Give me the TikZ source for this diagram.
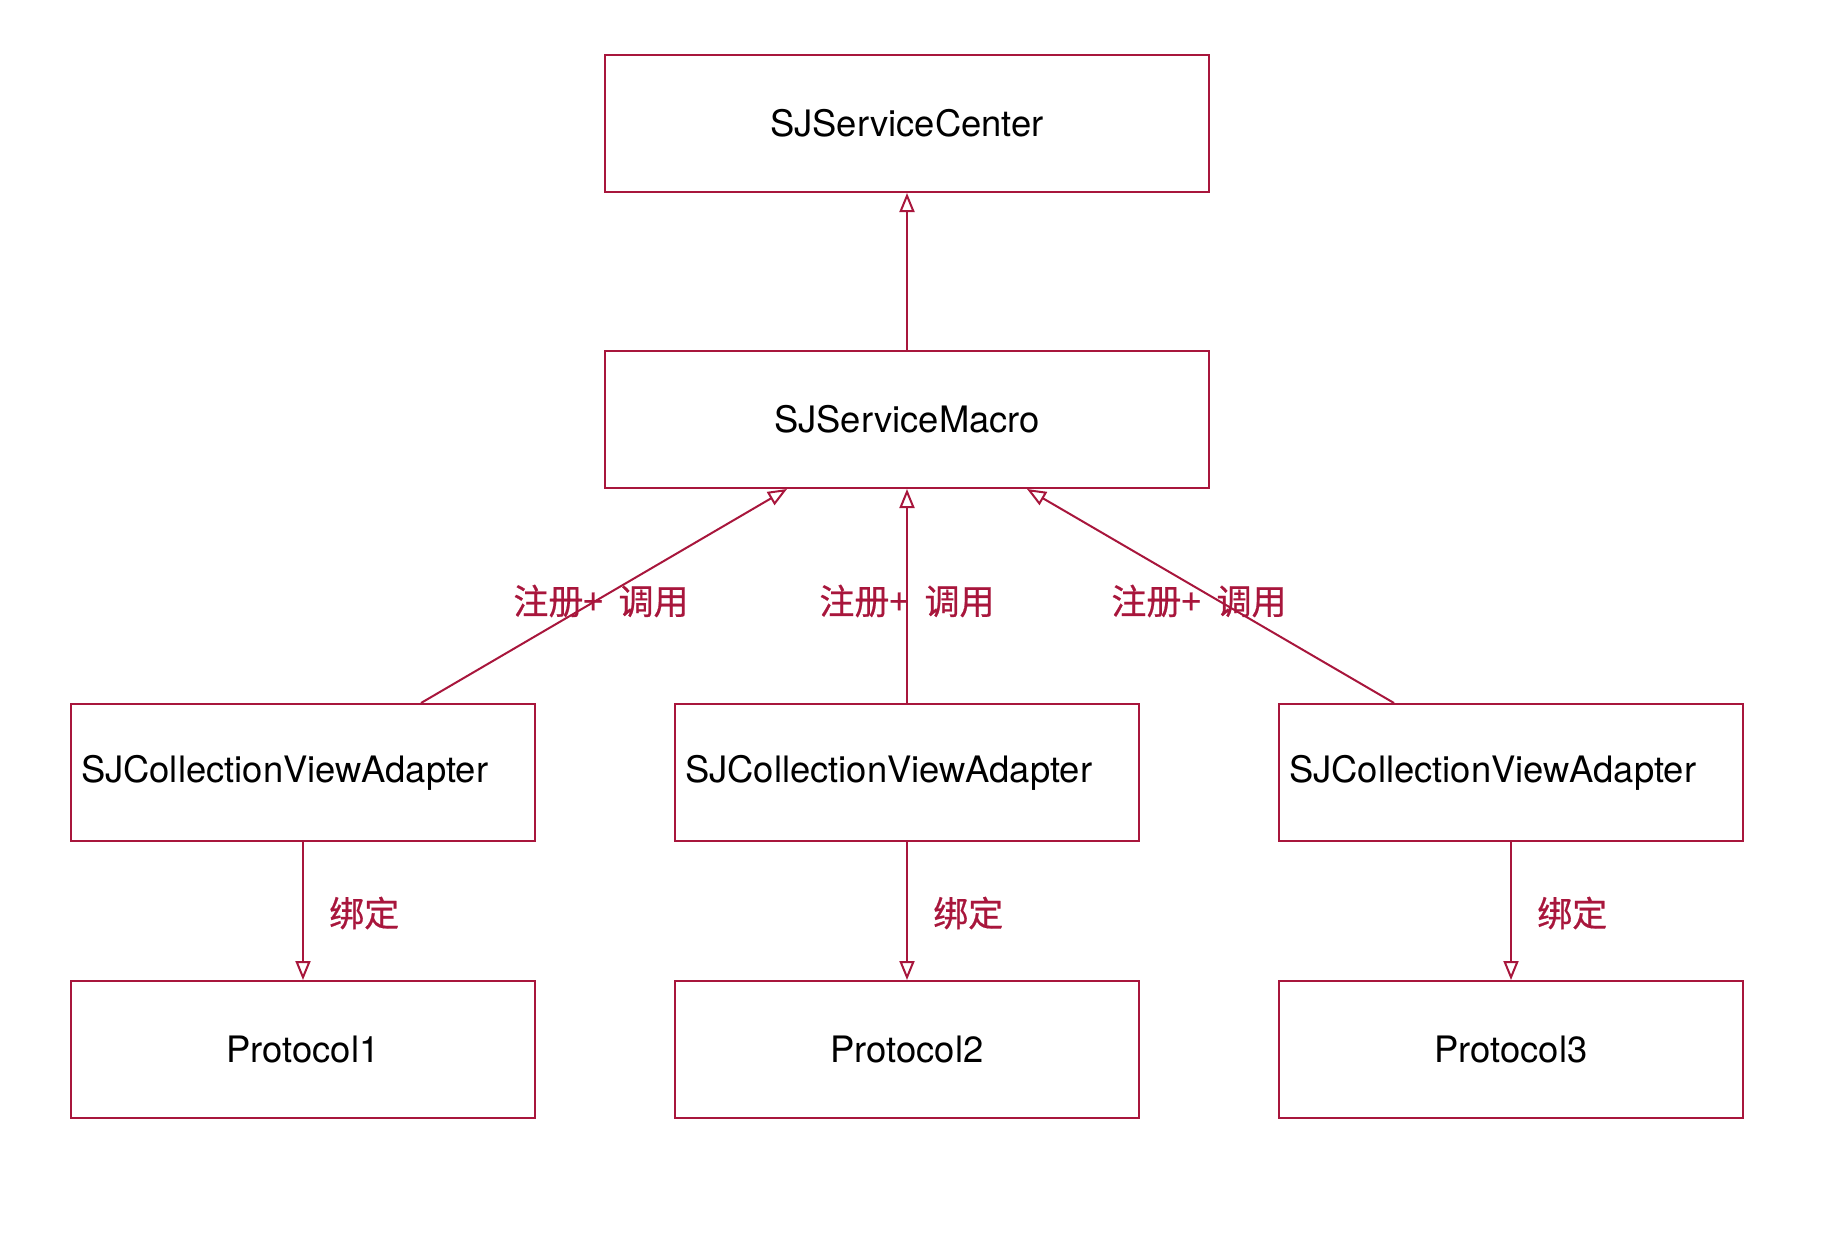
\documentclass[tikz,border=0pt]{standalone}
\usepackage{fontspec}
\setmainfont{TeX Gyre Heros}
\newfontfamily\cjk[UprightFeatures={FakeBold=0.6}]{Noto Sans CJK SC}
\usetikzlibrary{arrows.meta}
\definecolor{boxred}{RGB}{168,22,60}

\tikzset{
    classbox/.style={draw=boxred, line width=2pt, inner sep=0pt,
        minimum width=604pt, minimum height=137pt,
        font=\fontsize{36.4}{43}\selectfont},
    adapterbox/.style={classbox, minimum width=464pt, text width=444pt, align=left},
    protobox/.style={classbox, minimum width=464pt},
    uml/.style={boxred, line width=2pt, -{Triangle[open, length=19pt, width=15pt]}},
    lbl/.style={text=boxred, inner sep=0pt, font=\cjk\fontsize{35}{42}\selectfont}
}
\newcommand{\reglabel}{注册+\hspace{0.45em}调用}

\begin{document}
\begin{tikzpicture}[x=1pt, y=-1pt]
        \useasboundingbox (0,0) rectangle (1846,1236);

        % top two boxes
        \node[classbox] (center) at (907,123.5) {SJServiceCenter};
        \node[classbox] (macro) at (907,419.5) {SJServiceMacro};

        % adapters
        \node[adapterbox] (adapter1) at (303,772.5) {SJCollectionViewAdapter};
        \node[adapterbox] (adapter2) at (907,772.5) {SJCollectionViewAdapter};
        \node[adapterbox] (adapter3) at (1511,772.5) {SJCollectionViewAdapter};

        % protocols
        \node[protobox] (proto1) at (303,1049.5) {Protocol1};
        \node[protobox] (proto2) at (907,1049.5) {Protocol2};
        \node[protobox] (proto3) at (1511,1049.5) {Protocol3};

        \draw[uml] (macro.north) -- (center.south);

        \draw[uml] ([xshift=118pt]adapter1.north) -- ([xshift=-120pt]macro.south);
        \draw[uml] (adapter2.north) -- (macro.south);
        \draw[uml] ([xshift=-117pt]adapter3.north) -- ([xshift=120pt]macro.south);

        \draw[uml] (adapter1.south) -- (proto1.north);
        \draw[uml] (adapter2.south) -- (proto2.north);
        \draw[uml] (adapter3.south) -- (proto3.north);

        % labels
        \node[lbl] (reg1) at (601,601) {\reglabel};
        \node[lbl] (reg2) at (907,601) {\reglabel};
        \node[lbl] (reg3) at (1199,601) {\reglabel};

        \node[lbl, anchor=west] (bind1) at (329,913) {绑定};
        \node[lbl, anchor=west] (bind2) at (933,913) {绑定};
        \node[lbl, anchor=west] (bind3) at (1537,913) {绑定};
    \end{tikzpicture}
\end{document}
